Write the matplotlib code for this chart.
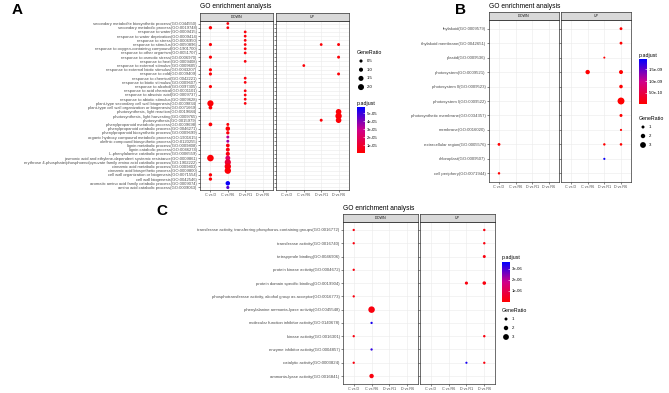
import numpy as np
import matplotlib.pyplot as plt
from matplotlib.colors import LinearSegmentedColormap, Normalize
from matplotlib.cm import ScalarMappable

plt.rcParams['font.family'] = ['Liberation Sans', 'DejaVu Sans']

W, H = 669, 393
fig = plt.figure(figsize=(W / 100, H / 100), dpi=100)

cmps = ['C vs D', 'C vs R6', 'D vs R1', 'D vs R6']
groups = ['DOWN', 'UP']

# ---------------- panel A (biological process) ----------------
a_terms = [
    'secondary metabolite biosynthetic process(GO:0044550)',
    'secondary metabolic process(GO:0019748)',
    'response to water(GO:0009415)',
    'response to water deprivation(GO:0009414)',
    'response to stress(GO:0006950)',
    'response to stimulus(GO:0050896)',
    'response to oxygen-containing compound(GO:1901700)',
    'response to other organism(GO:0051707)',
    'response to osmotic stress(GO:0006970)',
    'response to heat(GO:0009408)',
    'response to external stimulus(GO:0009605)',
    'response to external biotic stimulus(GO:0043207)',
    'response to cold(GO:0009409)',
    'response to chemical(GO:0042221)',
    'response to biotic stimulus(GO:0009607)',
    'response to alcohol(GO:0097305)',
    'response to acid chemical(GO:0001101)',
    'response to abscisic acid(GO:0009737)',
    'response to abiotic stimulus(GO:0009628)',
    'plant-type secondary cell wall biogenesis(GO:0009834)',
    'plant-type cell wall organization or biogenesis(GO:0071669)',
    'photosynthesis, light reaction(GO:0019684)',
    'photosynthesis, light harvesting(GO:0009765)',
    'photosynthesis(GO:0015979)',
    'phenylpropanoid metabolic process(GO:0009698)',
    'phenylpropanoid catabolic process(GO:0046271)',
    'phenylpropanoid biosynthetic process(GO:0009699)',
    'organic hydroxy compound metabolic process(GO:1901615)',
    'olefinic compound biosynthetic process(GO:0120255)',
    'lignin metabolic process(GO:0009808)',
    'lignin catabolic process(GO:0046274)',
    'L-phenylalanine catabolic process(GO:0006559)',
    'jasmonic acid and ethylene-dependent systemic resistance(GO:0009861)',
    'erythrose 4-phosphate/phosphoenolpyruvate family amino acid catabolic process(GO:1902222)',
    'cinnamic acid metabolic process(GO:0009803)',
    'cinnamic acid biosynthetic process(GO:0009800)',
    'cell wall organization or biogenesis(GO:0071554)',
    'cell wall biogenesis(GO:0042546)',
    'aromatic amino acid family catabolic process(GO:0009074)',
    'amino acid catabolic process(GO:0009063)',
]
a_grp = [0] * 12 + [0] * 16 + [0] * 13 + [1] * 9
a_cmp = [0] * 12 + [1] * 16 + [2] * 13 + [1, 2, 2, 3, 3, 3, 3, 3, 3]
a_row = ([1, 5, 8, 11, 12, 15, 19, 20, 24, 32, 36, 37]
         + [0, 1, 24, 25, 26, 27, 28, 29, 30, 31, 32, 33, 34, 35, 38, 39]
         + [2, 3, 4, 5, 6, 7, 9, 13, 14, 16, 17, 18, 19]
         + [10, 5, 23, 5, 8, 12, 21, 22, 23])
a_ratio = ([0.6, 0.5, 0.5, 0.5, 0.5, 0.5, 2.1, 0.8, 0.8, 2.3, 0.6, 0.6]
           + [0.3, 0.3, 0.4, 1.2, 0.6, 0.4, 0.4, 0.8, 0.9, 1.0, 1.4, 2.1, 2.2, 2.2, 1.2, 0.5]
           + [0.3] * 13
           + [0.3, 0.3, 0.4, 0.4, 0.4, 0.4, 1.8, 2.2, 1.8])
a_padj = ([2e-6] * 12
          + [3e-6, 3e-6, 2e-6, 2e-6, 2e-6, 3.2e-5, 3.6e-5, 3e-6, 3e-6, 3e-6,
             2.2e-5, 1.2e-5, 4e-6, 2e-6, 5.6e-5, 4.6e-5]
          + [3e-6] * 13
          + [2e-6] * 9)

# ---------------- panel B (cellular component) ----------------
b_terms = [
    'thylakoid(GO:0009579)',
    'thylakoid membrane(GO:0042651)',
    'plastid(GO:0009536)',
    'photosystem(GO:0009521)',
    'photosystem II(GO:0009523)',
    'photosystem I(GO:0009522)',
    'photosynthetic membrane(GO:0034357)',
    'membrane(GO:0016020)',
    'extracellular region(GO:0005576)',
    'chloroplast(GO:0009507)',
    'cell periphery(GO:0071944)',
]
b_grp = [0, 0, 1, 1, 1, 1, 1, 1, 1, 1, 1, 1, 1, 1]
b_cmp = [0, 0, 1, 2, 2, 2, 3, 3, 3, 3, 3, 3, 3, 3]
b_row = [8, 10, 3, 2, 8, 9, 0, 1, 3, 4, 5, 6, 7, 8]
b_ratio = [0.9, 0.6, 2.0, 0.3, 0.6, 0.4, 0.9, 0.9, 1.7, 1.4, 3.8, 1.0, 0.4, 0.7]
b_padj = [2e-11] * 5 + [1.9e-9] + [2e-11] * 8

# ---------------- panel C (molecular function) ----------------
c_terms = [
    'transferase activity, transferring phosphorus-containing groups(GO:0016772)',
    'transferase activity(GO:0016740)',
    'tetrapyrrole binding(GO:0046906)',
    'protein kinase activity(GO:0004672)',
    'protein domain specific binding(GO:0019904)',
    'phosphotransferase activity, alcohol group as acceptor(GO:0016773)',
    'phenylalanine ammonia-lyase activity(GO:0045548)',
    'molecular function inhibitor activity(GO:0140678)',
    'kinase activity(GO:0016301)',
    'enzyme inhibitor activity(GO:0004857)',
    'catalytic activity(GO:0003824)',
    'ammonia-lyase activity(GO:0016841)',
]
c_grp = [0] * 10 + [1] * 8
c_cmp = [0] * 6 + [1] * 4 + [2, 2] + [3] * 6
c_row = [0, 1, 3, 5, 8, 10, 6, 7, 9, 11, 4, 10, 0, 1, 2, 4, 8, 10]
c_ratio = [0.5, 0.5, 0.5, 0.5, 0.5, 0.5, 3.5, 0.5, 0.5, 2.0,
           1.1, 0.4, 0.6, 0.6, 1.0, 1.4, 0.6, 0.5]
c_padj = [2e-7] * 6 + [2e-7, 3.4e-6, 3.2e-6, 2e-7] + [2e-7, 3.4e-6] + [2e-7] * 6

cmap = LinearSegmentedColormap.from_list('rb', ['#FF0000', '#D0008A', '#0000FF'])

ov = fig.add_axes([0, 0, 1, 1])
ov.set_xlim(0, W)
ov.set_ylim(H, 0)
ov.axis('off')


def px(x, y, w, h):
    return [x / W, 1 - (y + h) / H, w / W, h / H]


def panel(terms, grp, cmp, row, ratio, padj, lay, norm, dsize):
    n = len(terms)
    grp, cmp, row = np.array(grp), np.array(cmp), np.array(row)
    ratio, padj = np.array(ratio), np.array(padj)
    for g, name in enumerate(groups):
        x0 = lay['x'] + g * (lay['w'] + lay['gap'])
        ax = fig.add_axes(px(x0, lay['top'] + lay['sh'], lay['w'], lay['ph']))
        sel = grp == g
        ax.scatter(cmp[sel] + 1, n - row[sel], s=(dsize(ratio[sel]) * 0.72) ** 2,
                   c=padj[sel], cmap=cmap, norm=norm, edgecolors='none', zorder=3)
        ax.set_xlim(0.4, 4.6)
        ax.set_ylim(0.4, n + 0.6)
        ax.set_xticks(range(1, 5))
        ax.set_xticklabels(cmps, fontsize=lay['fx'], color='#4D4D4D')
        ax.set_yticks(range(1, n + 1))
        if g == 0:
            ax.set_yticklabels(terms[::-1], fontsize=lay['fy'], color='#4D4D4D')
        else:
            ax.set_yticklabels([])
            ax.tick_params(axis='y', length=0)
        ax.tick_params(length=1.4, width=0.4, pad=1, color='#333333')
        ax.grid(color='#EBEBEB', lw=0.4)
        ax.set_axisbelow(True)
        for sp in ax.spines.values():
            sp.set_linewidth(0.5)
            sp.set_color('#333333')
        st = fig.add_axes(px(x0, lay['top'], lay['w'], lay['sh']))
        st.set_facecolor('#D9D9D9')
        st.set_xticks([])
        st.set_yticks([])
        for sp in st.spines.values():
            sp.set_linewidth(0.5)
            sp.set_color('#333333')
        st.text(0.5, 0.5, name, ha='center', va='center', fontsize=lay['fx'],
                color='#1A1A1A', transform=st.transAxes)
    ov.text(lay['x'], lay['top'] - 6, 'GO enrichment analysis', fontsize=lay['ft'],
            ha='left', va='center')


def size_legend(x, y, vals, dsize, title, step):
    ov.text(x, y, title, fontsize=3.8, ha='left', va='center')
    for i, v in enumerate(vals):
        yy = y + 9 + i * step
        ov.scatter([x + 4], [yy], s=(dsize(v) * 0.72) ** 2, color='black',
                   edgecolors='none')
        ov.text(x + 10, yy, str(v), fontsize=3.1, ha='left', va='center')


def color_legend(x, y, h, norm, ticks, labels):
    ov.text(x, y, 'p.adjust', fontsize=3.8, ha='left', va='center')
    cax = fig.add_axes(px(x, y + 4, 8, h))
    cb = fig.colorbar(ScalarMappable(norm=norm, cmap=cmap), cax=cax)
    cb.set_ticks(ticks)
    cb.set_ticklabels(labels)
    cb.outline.set_visible(False)
    cax.tick_params(labelsize=3.1, length=1.5, width=0.4, color='white',
                    direction='in', pad=1.5)


# panel A
lay_a = dict(x=200, top=13, w=73, gap=3, sh=8, ph=169, fx=2.7, fy=3.0, ft=4.8)
norm_a = Normalize(5e-7, 5.75e-5)
ds_a = lambda r: 2.2 + 1.9 * np.asarray(r)
panel(a_terms, a_grp, a_cmp, a_row, a_ratio, a_padj, lay_a, norm_a, ds_a)
size_legend(357, 52, [0.5, 1.0, 1.5, 2.0], ds_a, 'GeneRatio', 8.7)
color_legend(357, 103, 46, norm_a, [1e-5, 2e-5, 3e-5, 4e-5, 5e-5],
             ['1e-05', '2e-05', '3e-05', '4e-05', '5e-05'])

# panel B
lay_b = dict(x=489, top=12, w=70, gap=2, sh=8, ph=162, fx=2.7, fy=3.1, ft=4.8)
norm_b = Normalize(1e-11, 1.95e-9)
ds_b = lambda r: 1.6 + 1.4 * np.asarray(r)
panel(b_terms, b_grp, b_cmp, b_row, b_ratio, b_padj, lay_b, norm_b, ds_b)
color_legend(639, 55, 45, norm_b, [5e-10, 1e-9, 1.5e-9],
             ['5.0e-10', '1.0e-09', '1.5e-09'])
size_legend(639, 118, [1, 2, 3], ds_b, 'GeneRatio', 9)

# panel C
lay_c = dict(x=343, top=214, w=75, gap=2, sh=8, ph=162, fx=2.7, fy=3.1, ft=4.8)
norm_c = Normalize(1e-8, 3.6e-6)
ds_c = lambda r: 1.6 + 1.4 * np.asarray(r)
panel(c_terms, c_grp, c_cmp, c_row, c_ratio, c_padj, lay_c, norm_c, ds_c)
color_legend(502, 258, 40, norm_c, [1e-6, 2e-6, 3e-6], ['1e-06', '2e-06', '3e-06'])
size_legend(502, 310, [1, 2, 3], ds_c, 'GeneRatio', 9)

ov.text(17, 10, 'A', fontsize=11, fontweight='bold', ha='center', va='center')
ov.text(460, 10, 'B', fontsize=11, fontweight='bold', ha='center', va='center')
ov.text(162, 211, 'C', fontsize=11, fontweight='bold', ha='center', va='center')

fig.savefig('out.png', dpi=100)
